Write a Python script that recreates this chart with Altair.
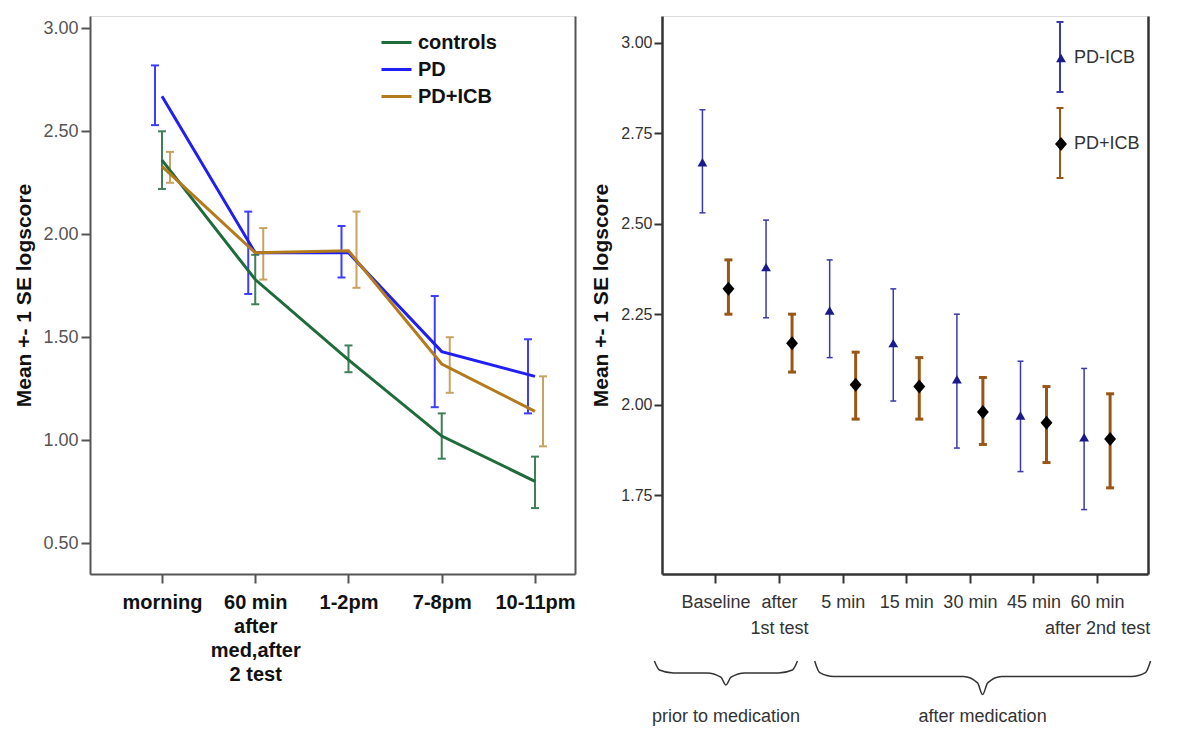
import json
import altair as alt
import pandas as pd

# ---------------- left panel data ----------------
left_tick_labels = ["morning", ["60 min", "after", "med,after", "2 test"], "1-2pm", "7-8pm", "10-11pm"]
left_groups = ["controls", "PD", "PD+ICB"]

controls_mean = [2.36, 1.78, 1.39, 1.02, 0.80]
controls_lo = [2.22, 1.66, 1.33, 0.91, 0.67]
controls_hi = [2.50, 1.90, 1.46, 1.13, 0.92]

pd_mean = [2.67, 1.91, 1.91, 1.43, 1.31]
pd_lo = [2.53, 1.71, 1.79, 1.16, 1.13]
pd_hi = [2.82, 2.11, 2.04, 1.70, 1.49]

icb_mean = [2.33, 1.91, 1.92, 1.37, 1.14]
icb_lo = [2.25, 1.78, 1.74, 1.23, 0.97]
icb_hi = [2.40, 2.03, 2.11, 1.50, 1.31]

# ---------------- right panel data ----------------
right_tick_labels = ["Baseline", ["after", "1st test"], "5 min", "15 min", "30 min", "45 min",
                     ["60 min", "after 2nd test"]]
right_series = ["PD-ICB", "PD+ICB"]
right_bar_keys = ["PD-ICB SE", "PD+ICB SE"]

pdicb_mean = [2.67, 2.38, 2.26, 2.17, 2.07, 1.97, 1.91]
pdicb_lo = [2.53, 2.24, 2.13, 2.01, 1.88, 1.815, 1.71]
pdicb_hi = [2.815, 2.51, 2.40, 2.32, 2.25, 2.12, 2.10]

pdplus_mean = [2.32, 2.17, 2.055, 2.05, 1.98, 1.95, 1.905]
pdplus_lo = [2.25, 2.09, 1.96, 1.96, 1.89, 1.84, 1.77]
pdplus_hi = [2.40, 2.25, 2.145, 2.13, 2.075, 2.05, 2.03]

phase_names = ["prior to medication", "after medication"]
phase_start = [-0.96, 1.56]
phase_end = [1.29, 6.84]

# ---------------- styles ----------------
NARROW = "Liberation Sans Narrow, Arial Narrow, Liberation Sans"
SANS = "Liberation Sans, Arial, sans-serif"
line_colors = {"controls": "#1f6b3c", "PD": "#1f1ff5", "PD+ICB": "#b27b1c"}
bar_colors = {"controls": "#3f7f57", "PD": "#3d3dff", "PD+ICB": "#c9a262"}
left_offsets = {"controls": 0, "PD": -7, "PD+ICB": 8}

pt_colors = ["#1a1a8c", "#000000"]
errbar_colors = ["#3a3aa8", "#9a5616"]
right_offsets = {"PD-ICB": -13, "PD+ICB": 13}
right_bar_width = {"PD-ICB": 1.5, "PD+ICB": 3}
right_cap_size = {"PD-ICB": 36, "PD+ICB": 64}

# ---------------- tables ----------------
rows = []
for g, m, lo, hi in [("controls", controls_mean, controls_lo, controls_hi),
                     ("PD", pd_mean, pd_lo, pd_hi),
                     ("PD+ICB", icb_mean, icb_lo, icb_hi)]:
    for i in range(len(m)):
        rows.append({"x": i, "group": g, "mean": m[i], "lo": lo[i], "hi": hi[i]})
left_df = pd.DataFrame(rows)

rows = []
for s, sb, m, lo, hi in [("PD-ICB", right_bar_keys[0], pdicb_mean, pdicb_lo, pdicb_hi),
                         ("PD+ICB", right_bar_keys[1], pdplus_mean, pdplus_lo, pdplus_hi)]:
    for i in range(len(m)):
        rows.append({"x": i, "series": s, "series_bar": sb, "mean": m[i], "lo": lo[i], "hi": hi[i]})
right_df = pd.DataFrame(rows)

# brace outlines built from the phase spans
brace_rows = []
text_rows = []
for k, (name, a, b) in enumerate(zip(phase_names, phase_start, phase_end)):
    mid = (a + b) / 2
    depth = 1.0 if k == 0 else 1.3
    tip = 2.0 if k == 0 else 2.8
    pts = [(a, 0.0), (a + 0.08, 0.75 * depth), (a + 0.3, depth),
           (mid - 0.3, depth), (mid - 0.08, depth + (tip - depth) * 0.35), (mid, tip),
           (mid + 0.08, depth + (tip - depth) * 0.35), (mid + 0.3, depth),
           (b - 0.3, depth), (b - 0.08, 0.75 * depth), (b, 0.0)]
    for x, y in pts:
        brace_rows.append({"x": x, "by": y, "phase": name})
    text_rows.append({"x": mid, "by": 4.67, "phase": name})
brace_df = pd.DataFrame(brace_rows)
text_df = pd.DataFrame(text_rows)

# ---------------- left chart ----------------
LW, LH = 485, 558
lx = alt.Scale(domain=[-0.772, 4.429], nice=False, zero=False)
ly = alt.Scale(domain=[0.35, 3.06], nice=False, zero=False)

left_x_axis = alt.Axis(values=list(range(5)),
                       labelExpr=json.dumps(left_tick_labels) + "[datum.value]",
                       title=None, grid=False, tickSize=9, tickWidth=2, tickColor="#555",
                       domainColor="#555", domainWidth=2, labelFont=SANS, labelFontSize=20,
                       labelFontWeight="bold", labelColor="#111", labelPadding=9,
                       labelLineHeight=24, labelFlush=False, labelOverlap=False, labelBound=False)
left_y_axis = alt.Axis(values=[0.5, 1.0, 1.5, 2.0, 2.5, 3.0], format=".2f",
                       title="Mean +- 1 SE logscore", titleFont=SANS, titleFontSize=21,
                       titleFontWeight="bold", titleColor="#111", titlePadding=8,
                       grid=False, tickSize=9, tickWidth=2, tickColor="#555",
                       domainColor="#555", domainWidth=2, labelFont=SANS, labelFontSize=18,
                       labelColor="#555", labelPadding=3)
frame_axis_left = alt.Axis(orient="right", labels=False, ticks=False, title=None, grid=False,
                           domainColor="#555", domainWidth=2)

lxe = alt.X("x:Q", scale=lx, axis=left_x_axis)
left_layers = []
first = True
for g in left_groups:
    d = left_df[left_df["group"] == g]
    off = left_offsets[g]
    base = alt.Chart(d)
    left_layers.append(
        base.mark_rule(color=bar_colors[g], strokeWidth=2, xOffset=off).encode(
            x=lxe,
            y=alt.Y("lo:Q", scale=ly, axis=frame_axis_left if first else None),
            y2="hi:Q"))
    first = False
    for col in ["lo", "hi"]:
        left_layers.append(
            base.mark_point(shape="stroke", size=64, strokeWidth=2, color=bar_colors[g],
                            xOffset=off, opacity=1).encode(
                x=lxe, y=alt.Y(f"{col}:Q", scale=ly, axis=None)))

left_lines = alt.Chart(left_df).mark_line(strokeWidth=3).encode(
    x=lxe,
    y=alt.Y("mean:Q", scale=ly, axis=left_y_axis),
    color=alt.Color("group:N",
                    scale=alt.Scale(domain=left_groups, range=[line_colors[g] for g in left_groups]),
                    legend=alt.Legend(orient="none", legendX=290, legendY=10, title=None,
                                      symbolType="stroke", symbolSize=900, symbolStrokeWidth=3,
                                      labelFont=SANS, labelFontSize=20, labelFontWeight="bold",
                                      labelColor="#111", labelOffset=5, rowPadding=0, padding=0)),
    detail="group:N")

left_chart = alt.layer(*left_layers, left_lines).resolve_axis(y="independent").properties(
    width=LW, height=LH)

# ---------------- right chart ----------------
RW, RH = 486, 558
rx = alt.Scale(domain=[-0.84, 6.80], nice=False, zero=False)
ry = alt.Scale(domain=[1.532, 3.074], nice=False, zero=False)

right_x_axis = alt.Axis(values=list(range(7)),
                        labelExpr=json.dumps(right_tick_labels) + "[datum.value]",
                        title=None, grid=False, tickSize=9, tickWidth=2, tickColor="#333",
                        domainColor="#333", domainWidth=2.5, labelFont=NARROW, labelFontSize=18,
                        labelColor="#333", labelPadding=10, labelLineHeight=26,
                        labelFlush=False, labelOverlap=False, labelBound=False)
right_y_axis = alt.Axis(values=[1.75, 2.0, 2.25, 2.5, 2.75, 3.0], format=".2f",
                        title="Mean +- 1 SE logscore", titleFont=SANS, titleFontSize=21,
                        titleFontWeight="bold", titleColor="#111", titlePadding=9,
                        grid=False, tickSize=8, tickWidth=2, tickColor="#333",
                        domainColor="#333", domainWidth=2.5, labelFont=NARROW, labelFontSize=16,
                        labelColor="#333", labelPadding=2)
frame_axis_right = alt.Axis(orient="right", labels=False, ticks=False, title=None, grid=False,
                            domainColor="#333", domainWidth=2.5)

bar_path = "M0,-1V1M-0.1,-1H0.1M-0.1,1H0.1"
tri_path = "M0,-0.6L0.7,0.6L-0.7,0.6Z"
dia_path = "M0,-1L0.85,0L0,1L-0.85,0Z"

bar_scale = alt.Scale(domain=right_bar_keys, range=errbar_colors)
bar_legend = alt.Legend(orient="none", legendX=362, legendY=5, title=None,
                        symbolType=bar_path, symbolSize=4900, symbolStrokeWidth=2,
                        symbolFillColor="transparent", labelExpr="''", labelFontSize=1,
                        rowPadding=8, padding=0)
pt_scale = alt.Scale(domain=right_series, range=pt_colors)
shape_scale = alt.Scale(domain=right_series, range=[tri_path, dia_path])
pt_legend = alt.Legend(orient="none", legendX=390, legendY=33, title=None,
                       symbolSize=196, symbolStrokeWidth=0, symbolOpacity=1,
                       labelFont=NARROW, labelFontSize=18, labelColor="#333",
                       labelOffset=4, rowPadding=68, padding=0)

rxe = alt.X("x:Q", scale=rx, axis=right_x_axis)
bar_layers = []
pt_layers = []
for k, s in enumerate(right_series):
    d = right_df[right_df["series"] == s]
    off = right_offsets[s]
    base = alt.Chart(d)
    bar_layers.append(
        base.mark_rule(strokeWidth=right_bar_width[s], xOffset=off).encode(
            x=rxe,
            y=alt.Y("lo:Q", scale=ry, axis=frame_axis_right if k == 0 else None),
            y2="hi:Q",
            stroke=alt.Stroke("series_bar:N", scale=bar_scale, legend=bar_legend)))
    for col in ["lo", "hi"]:
        bar_layers.append(
            base.mark_point(shape="stroke", size=right_cap_size[s], strokeWidth=right_bar_width[s],
                            xOffset=off, opacity=1, filled=False).encode(
                x=rxe, y=alt.Y(f"{col}:Q", scale=ry, axis=None),
                stroke=alt.Stroke("series_bar:N", scale=bar_scale, legend=bar_legend)))
    pt_layers.append(
        base.mark_point(filled=True, size=196, xOffset=off, opacity=1).encode(
            x=rxe,
            y=alt.Y("mean:Q", scale=ry, axis=right_y_axis if k == 0 else None),
            color=alt.Color("series:N", scale=pt_scale, legend=pt_legend),
            shape=alt.Shape("series:N", scale=shape_scale, legend=pt_legend)))

right_inner = alt.layer(*bar_layers, *pt_layers).resolve_axis(y="independent")

brace_scale = alt.Scale(domain=[0, 1], range=[RH + 87, RH + 99], nice=False, zero=False)
braces = alt.Chart(brace_df).mark_line(color="#333", strokeWidth=1.5, interpolate="monotone").encode(
    x=rxe, y=alt.Y("by:Q", scale=brace_scale, axis=None), detail="phase:N")
phase_text = alt.Chart(text_df).mark_text(font=NARROW, fontSize=18, color="#333").encode(
    x=rxe, y=alt.Y("by:Q", scale=brace_scale, axis=None), text="phase:N")

right_chart = alt.layer(right_inner, braces, phase_text).resolve_scale(y="independent").properties(
    width=RW, height=RH)

chart = alt.hconcat(left_chart, right_chart, spacing=14).resolve_scale(
    x="independent", y="independent", color="independent", shape="independent",
    stroke="independent"
).properties(
    padding={"left": 5, "top": 7, "right": 0, "bottom": 0}
).configure_view(stroke=None).configure(background="white")

chart.save("out.html", embed_options={"renderer": "svg", "actions": False})
